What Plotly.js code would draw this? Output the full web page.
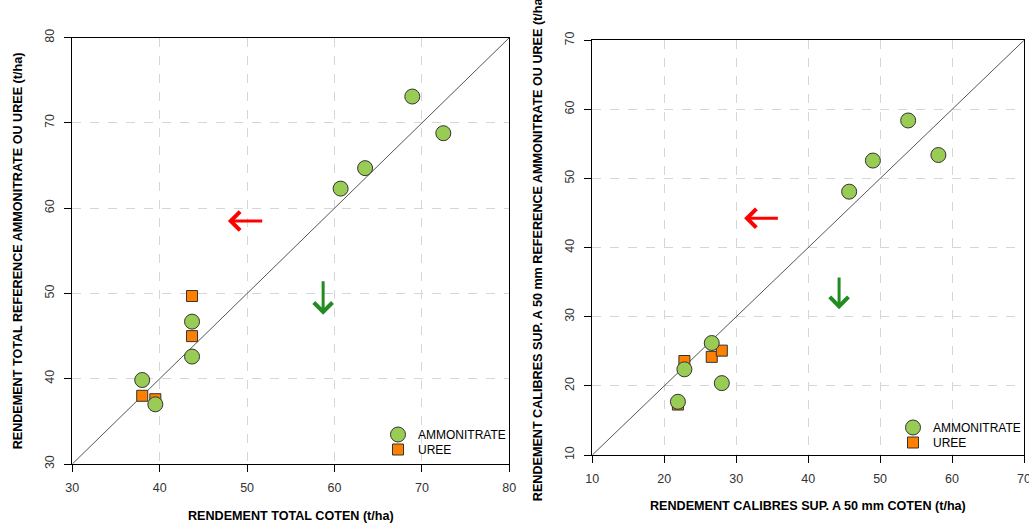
<!DOCTYPE html>
<html>
<head>
<meta charset="utf-8">
<script src="https://cdn.plot.ly/plotly-3.0.1.min.js"></script>
<style>
  html, body { margin: 0; padding: 0; background: #ffffff; }
  #chart { width: 1029px; height: 525px; }
</style>
</head>
<body>
<div id="chart"></div>
<script>
// Rendement total (t/ha): COTEN vs reference
var totalAmmoX = [68.9, 72.45, 63.5, 60.7, 43.7, 43.7, 38.0, 39.5];
var totalAmmoY = [73.1, 68.8, 64.7, 62.3, 46.7, 42.6, 39.85, 37.0];
var totalUreeX = [43.7, 43.7, 38.0, 39.5];
var totalUreeY = [49.7, 45.0, 38.0, 37.6];

// Rendement calibres > 50 mm (t/ha): COTEN vs reference
var calAmmoX = [53.9, 58.1, 49.0, 45.7, 26.6, 22.8, 28.0, 21.9];
var calAmmoY = [58.4, 53.4, 52.6, 48.1, 26.2, 22.4, 20.4, 17.7];
var calUreeX = [22.8, 26.6, 28.0, 21.9];
var calUreeY = [23.6, 24.2, 25.1, 17.3];

// Axis ranges (also used for the 1:1 line)
var totalRange = [30, 80];
var calRange = [10, 70];

// Axis titles
var totalXTitle = 'RENDEMENT TOTAL COTEN (t/ha)';
var totalYTitle = 'RENDEMENT TOTAL REFERENCE AMMONITRATE OU UREE (t/ha)';
var calXTitle = 'RENDEMENT CALIBRES SUP. A 50 mm COTEN (t/ha)';
var calYTitle = 'RENDEMENT CALIBRES SUP. A 50 mm REFERENCE AMMONITRATE OU UREE (t/ha)';

// Arrow annotations: [tailX, tailY, tipX, tipY]
var totalArrowRed = [51.9, 58.5, 47.8, 58.5];
var totalArrowGreen = [58.7, 51.6, 58.7, 47.5];
var calArrowRed = [36.0, 44.25, 31.1, 44.25];
var calArrowGreen = [44.3, 35.9, 44.3, 31.1];

var seriesNames = ['AMMONITRATE', 'UREE'];

var FONT = 'Liberation Sans, Arial, sans-serif';
var greenFill = '#99cc55';
var orangeFill = '#ff8000';
var edge = '#333333';

function ammoTrace(x, y, xa, ya, lg) {
  return {
    type: 'scatter', mode: 'markers', x: x, y: y, xaxis: xa, yaxis: ya,
    name: seriesNames[0], legend: lg,
    marker: { symbol: 'circle', size: 15, color: greenFill, line: { color: edge, width: 1 } },
    hoverinfo: 'x+y'
  };
}
function ureeTrace(x, y, xa, ya, lg) {
  return {
    type: 'scatter', mode: 'markers', x: x, y: y, xaxis: xa, yaxis: ya,
    name: seriesNames[1], legend: lg,
    marker: { symbol: 'square', size: 11, color: orangeFill, line: { color: edge, width: 1 } },
    hoverinfo: 'x+y'
  };
}
function diagTrace(r, xa, ya) {
  return {
    type: 'scatter', mode: 'lines', x: r, y: r, xaxis: xa, yaxis: ya,
    showlegend: false, hoverinfo: 'skip',
    line: { color: '#555555', width: 1 }
  };
}

var data = [
  diagTrace(totalRange, 'x', 'y'),
  ureeTrace(totalUreeX, totalUreeY, 'x', 'y', 'legend2'),
  ammoTrace(totalAmmoX, totalAmmoY, 'x', 'y', 'legend'),
  diagTrace(calRange, 'x2', 'y2'),
  ureeTrace(calUreeX, calUreeY, 'x2', 'y2', 'legend4'),
  ammoTrace(calAmmoX, calAmmoY, 'x2', 'y2', 'legend3')
];

function axisBase(range, domain, isY, anchor) {
  return {
    domain: domain,
    range: range,
    anchor: anchor,
    dtick: 10,
    tick0: 0,
    showgrid: true,
    gridcolor: '#d6d6d6',
    griddash: 'dash',
    gridwidth: 1,
    zeroline: false,
    showline: true,
    linecolor: '#000000',
    linewidth: 1,
    mirror: true,
    ticks: 'outside',
    ticklen: 7,
    tickcolor: '#000000',
    tickwidth: 1,
    ticklabelstandoff: 5,
    ticklabeloverflow: 'allow',
    tickangle: isY ? -90 : 0,
    tickfont: { family: FONT, size: 12.5, color: '#333333' },
    fixedrange: true
  };
}

function arrow(a, color, xr, yr) {
  return {
    x: a[2], y: a[3], ax: a[0], ay: a[1],
    xref: xr, yref: yr, axref: xr, ayref: yr,
    text: '', showarrow: true,
    arrowhead: 4, arrowsize: 1.2, arrowwidth: 3, arrowcolor: color,
    standoff: 0, startstandoff: 0
  };
}

var W = 1029, H = 525;

// Axis title placed at a pixel position of the figure
function axisTitle(text, px, py, vertical) {
  return {
    text: '<b>' + text + '</b>',
    xref: 'paper', yref: 'paper',
    x: px / W, y: 1 - py / H,
    xanchor: 'center', yanchor: 'middle',
    textangle: vertical ? -90 : 0,
    showarrow: false,
    font: { family: FONT, size: 12.6, color: '#000000' }
  };
}

function legendAt(px, py) {
  return {
    x: px / W, y: 1 - py / H, xref: 'paper', yref: 'paper', xanchor: 'left', yanchor: 'middle',
    bgcolor: 'rgba(0,0,0,0)', borderwidth: 0,
    font: { family: FONT, size: 12, color: '#000000' },
    itemclick: false, itemdoubleclick: false
  };
}

var leftBox = { l: 72.3, r: 509.3, t: 37.7, b: 464 };
var rightBox = { l: 592.3, r: 1024, t: 40.3, b: 455 };

var layout = {
  width: W, height: H,
  margin: { l: 0, r: 0, t: 0, b: 0 },
  paper_bgcolor: '#ffffff',
  plot_bgcolor: '#ffffff',
  font: { family: FONT, size: 12, color: '#000000' },
  xaxis: axisBase(totalRange, [leftBox.l / W, leftBox.r / W], false, 'y'),
  yaxis: axisBase(totalRange, [1 - leftBox.b / H, 1 - leftBox.t / H], true, 'x'),
  xaxis2: axisBase(calRange, [rightBox.l / W, rightBox.r / W], false, 'y2'),
  yaxis2: axisBase(calRange, [1 - rightBox.b / H, 1 - rightBox.t / H], true, 'x2'),
  legend: legendAt(378, 434.5),
  legend2: legendAt(378, 449.5),
  legend3: legendAt(893, 427.5),
  legend4: legendAt(893, 442.5),
  annotations: [
    arrow(totalArrowRed, '#ff0000', 'x', 'y'),
    arrow(totalArrowGreen, '#228b22', 'x', 'y'),
    arrow(calArrowRed, '#ff0000', 'x2', 'y2'),
    arrow(calArrowGreen, '#228b22', 'x2', 'y2'),
    axisTitle(totalXTitle, (leftBox.l + leftBox.r) / 2, 516, false),
    axisTitle(totalYTitle, 17.5, (leftBox.t + leftBox.b) / 2, true),
    axisTitle(calXTitle, (rightBox.l + rightBox.r) / 2, 506, false),
    axisTitle(calYTitle, 537.5, (rightBox.t + rightBox.b) / 2, true)
  ],
  showlegend: true
};

Plotly.newPlot('chart', data, layout, { displayModeBar: false, staticPlot: true });
</script>
</body>
</html>
